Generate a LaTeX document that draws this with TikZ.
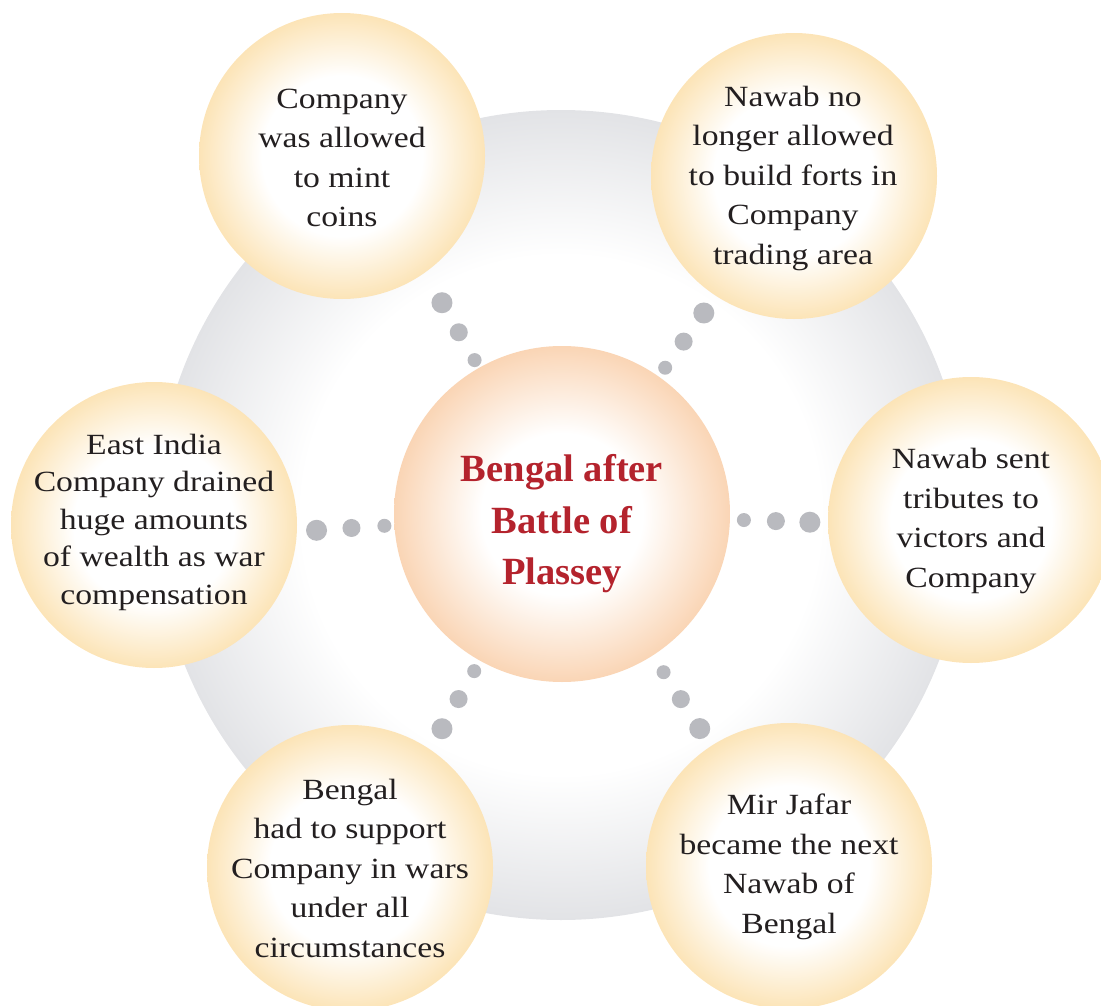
\documentclass[tikz,border=0pt]{standalone}
\usepackage{fontspec}
\setmainfont{Liberation Serif}
\newfontfamily\bodyfont{Liberation Serif}[FakeStretch=1.15]
\usetikzlibrary{calc}

\definecolor{ringgrey}{RGB}{226,227,230}
\definecolor{satedge}{RGB}{252,228,183}
\definecolor{hubedge}{RGB}{250,213,181}
\definecolor{dotgrey}{RGB}{185,186,191}
\definecolor{titlered}{RGB}{180,35,45}
\definecolor{inktext}{RGB}{35,31,32}

% radial fills: white core fading to a tinted rim (the rim sits at 25bp)
\pgfdeclareradialshading{ringshade}{\pgfpointorigin}{color(0bp)=(white); color(16bp)=(white); color(25bp)=(ringgrey); color(50bp)=(ringgrey)}
\pgfdeclareradialshading{satshade}{\pgfpointorigin}{color(0bp)=(white); color(14bp)=(white); color(25bp)=(satedge); color(50bp)=(satedge)}
\pgfdeclareradialshading{hubshade}{\pgfpointorigin}{color(0bp)=(white); color(12bp)=(white); color(25bp)=(hubedge); color(50bp)=(hubedge)}

\tikzset{
  ring/.style={circle, inner sep=0pt, minimum size=810pt, shade, shading=ringshade},
  hub/.style={circle, inner sep=0pt, minimum size=336pt, shade, shading=hubshade},
  sat/.style={circle, inner sep=0pt, minimum size=286pt, shade, shading=satshade},
  bodytext/.style={align=center, inner sep=0pt, text=inktext,
    font=\bodyfont\fontsize{29.3}{39.5}\selectfont},
  titletext/.style={align=center, inner sep=0pt, text=titlered,
    font=\bfseries\fontsize{38.5}{51.5}\selectfont},
  dotsm/.style={circle, inner sep=0pt, fill=dotgrey, minimum size=14pt},
  dotmd/.style={circle, inner sep=0pt, fill=dotgrey, minimum size=18pt},
  dotlg/.style={circle, inner sep=0pt, fill=dotgrey, minimum size=21pt},
}

\begin{document}
\begin{tikzpicture}[x=1pt, y=-1pt]
\useasboundingbox (0,0) rectangle (1101,1006);

% pale backdrop disc
\node[ring] (bg) at (561,515) {};

% centre and the six outcomes
\node[hub] (hub) at (562,514) {};
\node[sat] (s1) at (342,156) {};
\node[sat] (s2) at (794,176) {};
\node[sat] (s3) at (971,520) {};
\node[sat] (s4) at (789,866) {};
\node[sat] (s5) at (350,868) {};
\node[sat] (s6) at (154,525) {};

% dotted links from the centre, growing towards each outcome
\foreach \s/\a/\da/\db/\dc in {s1/-119.6/177/209/243, s2/-54.8/179/211/246,
    s3/1.9/182/214/248, s4/57.3/188/220/255, s5/119.2/180/212/246, s6/176.2/178/211/246}{
  \node[dotsm] (\s-a) at ($(hub)+(\a:\da)$) {};
  \node[dotmd] (\s-b) at ($(hub)+(\a:\db)$) {};
  \node[dotlg] (\s-c) at ($(hub)+(\a:\dc)$) {};
}

% labels
\node[titletext] (ttl) at (562,524) {Bengal after\\Battle of\\Plassey};
\node[bodytext] (t1) at (342,158) {Company\\was allowed\\to mint\\coins};
\node[bodytext] (t2) at (793,178) {Nawab no\\longer allowed\\to build forts in\\Company\\trading area};
\node[bodytext] (t3) at (971,521) {Nawab sent\\tributes to\\victors and\\Company};
\node[bodytext] (t4) at (789,867) {Mir Jafar\\became the next\\Nawab of\\Bengal};
\node[bodytext] (t5) at (350,868) {Bengal\\had to support\\Company in wars\\under all\\circumstances};
\node[bodytext, font=\bodyfont\fontsize{29.3}{37.5}\selectfont] (t6) at (154,522) {East India\\Company drained\\huge amounts\\of wealth as war\\compensation};
\end{tikzpicture}
\end{document}
